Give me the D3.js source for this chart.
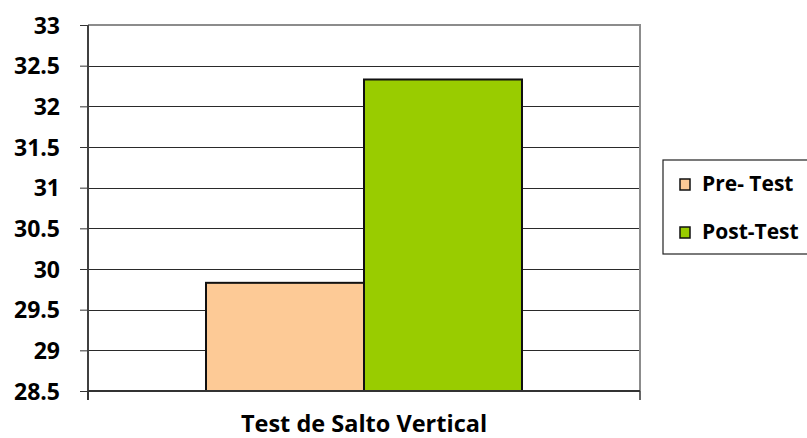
<!DOCTYPE html>
<html>
<head>
<meta charset="utf-8">
<script src="https://cdn.jsdelivr.net/npm/d3@7"></script>
<style>
  body { margin: 0; background: #fff; }
  text { font-family: "Open Sans", sans-serif; font-weight: bold; fill: #000; }
</style>
</head>
<body>
<div id="chart"></div>
<script>
// chart data
const categories = ['Test de Salto Vertical'];
const seriesNames = ['Pre- Test', 'Post-Test'];
const seriesValues = [29.83, 32.33];
const yTicks = [28.5, 29, 29.5, 30, 30.5, 31, 31.5, 32, 32.5, 33];
const colors = ['#fdca96', '#99cc00'];

const width = 807, height = 438;
const margin = { top: 25, right: 167, bottom: 47, left: 88 };

const svg = d3.select('#chart')
  .append('svg')
  .attr('width', width)
  .attr('height', height);

const x = d3.scaleBand()
  .domain(categories)
  .range([margin.left, width - margin.right])
  .paddingInner(0)
  .paddingOuter(0.3734);

const xs = d3.scaleBand()
  .domain(seriesNames)
  .range([0, x.bandwidth()]);

const y = d3.scaleLinear()
  .domain([28.5, 33])
  .range([height - margin.bottom, margin.top]);

// gridlines
svg.append('g')
  .selectAll('line')
  .data(yTicks.slice(1, -1))
  .enter()
  .append('line')
  .attr('x1', margin.left)
  .attr('x2', width - margin.right)
  .attr('y1', d => Math.round(y(d)) + 0.5)
  .attr('y2', d => Math.round(y(d)) + 0.5)
  .attr('stroke', '#2a2a2a')
  .attr('stroke-width', 1);

// plot border (top + right)
svg.append('path')
  .attr('d', `M${margin.left},${y(33)}H${width - margin.right}V${y(28.5)}`)
  .attr('fill', 'none')
  .attr('stroke', '#8c8c8c')
  .attr('stroke-width', 2);

// bars
svg.append('g')
  .selectAll('rect')
  .data(seriesValues)
  .enter()
  .append('rect')
  .attr('x', (d, i) => x(categories[0]) + xs(seriesNames[i]))
  .attr('y', d => y(d))
  .attr('width', xs.bandwidth())
  .attr('height', d => y(28.5) - y(d))
  .attr('fill', (d, i) => colors[i])
  .attr('stroke', '#111')
  .attr('stroke-width', 2);

// y axis
const yAxis = svg.append('g')
  .attr('transform', `translate(${margin.left},0)`)
  .call(d3.axisLeft(y).tickValues(yTicks).tickSize(8).tickPadding(20).tickFormat(d => d));
yAxis.select('.domain').remove();
yAxis.selectAll('.tick line').attr('stroke', '#333');
yAxis.selectAll('.tick text').style('font-size', '23px').attr('dy', '0.36em');
yAxis.append('line')
  .attr('x1', 0).attr('x2', 0)
  .attr('y1', y(33)).attr('y2', y(28.5) + 9)
  .attr('stroke', '#404040')
  .attr('stroke-width', 2);

// x axis
const xAxis = svg.append('g')
  .attr('transform', `translate(0,${y(28.5)})`);
xAxis.append('line')
  .attr('x1', margin.left).attr('x2', width - margin.right)
  .attr('stroke', '#333').attr('stroke-width', 2);
xAxis.selectAll('.edge')
  .data(x.range())
  .enter()
  .append('line')
  .attr('x1', d => d).attr('x2', d => d)
  .attr('y1', 0).attr('y2', 9)
  .attr('stroke', '#333').attr('stroke-width', 1.5);
xAxis.selectAll('.cat')
  .data(categories)
  .enter()
  .append('text')
  .attr('x', d => x(d) + x.bandwidth() / 2)
  .attr('y', 41)
  .attr('text-anchor', 'middle')
  .style('font-size', '23.5px')
  .text(d => d);

// legend
const legend = svg.append('g').attr('transform', 'translate(663,160)');
legend.append('rect')
  .attr('x', 0).attr('y', 0)
  .attr('width', 160).attr('height', 94)
  .attr('fill', '#fff')
  .attr('stroke', '#222')
  .attr('stroke-width', 1.2);
const items = legend.selectAll('.item')
  .data(seriesNames)
  .enter()
  .append('g')
  .attr('transform', (d, i) => `translate(17,${19 + i * 48})`);
items.append('rect')
  .attr('width', 10).attr('height', 11)
  .attr('fill', (d, i) => colors[i])
  .attr('stroke', '#111')
  .attr('stroke-width', 1.5);
items.append('text')
  .attr('x', 22)
  .attr('y', 12)
  .style('font-size', '21px')
  .text(d => d);
</script>
</body>
</html>
